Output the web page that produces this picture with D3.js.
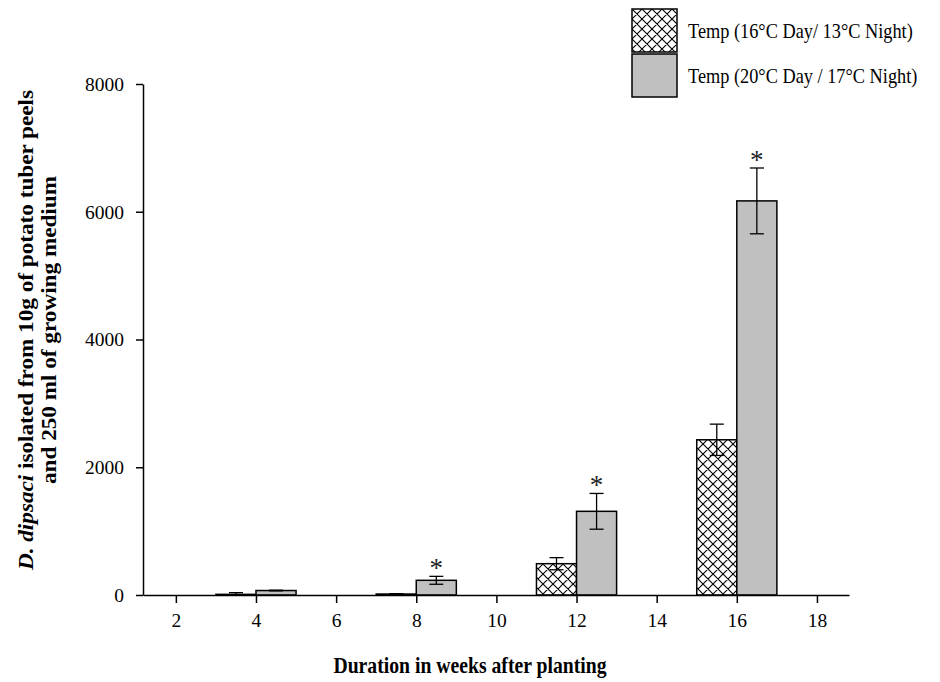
<!DOCTYPE html>
<html>
<head>
<meta charset="utf-8">
<script src="https://cdn.jsdelivr.net/npm/d3@7"></script>
<style>
  body { margin: 0; background: #fff; }
  svg text { font-family: "Liberation Serif", "Times New Roman", serif; fill: #000; }
  .axis path, .axis line { stroke: #000; stroke-width: 1.5; }
</style>
</head>
<body>
<div id="chart"></div>
<script>
// data
const weeks = [4, 8, 12, 16];
const coolMeans = [10, 15, 490, 2430];
const coolErr = [27, 5, 95, 245];
const warmMeans = [70, 230, 1310, 6170];
const warmErr = [5, 62, 280, 515];
const significant = [false, true, true, true];
const xTicks = [2, 4, 6, 8, 10, 12, 14, 16, 18];
const yTicks = [0, 2000, 4000, 6000, 8000];
const seriesNames = ['Temp (16°C Day/ 13°C Night)', 'Temp (20°C Day / 17°C Night)'];

const width = 940, height = 682;
const margin = { left: 143, right: 91, top: 84, bottom: 87 };
const plotW = width - margin.left - margin.right;
const plotH = height - margin.top - margin.bottom;
// the source figure is a bit stretched vertically
const stretch = 1.15;

const svg = d3.select('#chart').append('svg')
    .attr('width', width)
    .attr('height', height);

// cross hatch pattern
const defs = svg.append('defs');
const pat = defs.append('pattern')
    .attr('id', 'hatch')
    .attr('patternUnits', 'userSpaceOnUse')
    .attr('width', 10).attr('height', 10);
pat.append('rect').attr('width', 10).attr('height', 10).attr('fill', '#fff');
pat.append('path')
    .attr('d', 'M0,0L10,10M10,0L0,10M-1,9L1,11M9,-1L11,1M-1,1L1,-1M9,11L11,9')
    .attr('stroke', '#000').attr('stroke-width', 1.1);

const grey = '#c0c0c0';

const x = d3.scaleLinear().domain([1.18, 18.8]).range([0, plotW]);
const y = d3.scaleLinear().domain([0, 8000]).range([plotH, 0]);

const g = svg.append('g').attr('transform', `translate(${margin.left}, ${margin.top})`);

// bars: cool series sits left of the week, warm series right of it
const series = [
    { means: coolMeans, err: coolErr, offset: -1, fill: 'url(#hatch)' },
    { means: warmMeans, err: warmErr, offset: 0, fill: grey }
];

series.forEach(s => {
    const rows = weeks.map((w, i) => ({ w, v: s.means[i], e: s.err[i] }));
    g.selectAll(null).data(rows).enter().append('rect')
        .attr('x', d => x(d.w + s.offset))
        .attr('y', d => y(d.v))
        .attr('width', x(2) - x(1))
        .attr('height', d => plotH - y(d.v))
        .attr('fill', s.fill)
        .attr('stroke', '#000')
        .attr('stroke-width', 1.5);

    // error bars
    const eb = g.selectAll(null).data(rows).enter().append('g')
        .attr('stroke', '#000').attr('stroke-width', 1.3);
    const cx = d => x(d.w + s.offset + 0.5);
    const lo = d => y(Math.max(0, d.v - d.e));
    const hi = d => y(d.v + d.e);
    eb.append('line')
        .attr('x1', cx).attr('x2', cx)
        .attr('y1', hi).attr('y2', lo);
    eb.append('line')
        .attr('x1', d => cx(d) - 7).attr('x2', d => cx(d) + 7)
        .attr('y1', hi).attr('y2', hi);
    eb.append('line')
        .attr('x1', d => cx(d) - 7).attr('x2', d => cx(d) + 7)
        .attr('y1', lo).attr('y2', lo);
});

// significance marks
g.selectAll(null).data(weeks.map((w, i) => ({ w, top: warmMeans[i] + warmErr[i], sig: significant[i] })).filter(d => d.sig))
    .enter().append('text')
    .attr('x', d => x(d.w + 0.5))
    .attr('y', d => y(d.top) + 1)
    .attr('text-anchor', 'middle')
    .style('font-size', '27px')
    .style('fill', '#222')
    .text('*');

// axes
g.append('g').attr('class', 'axis')
    .attr('transform', `translate(0, ${plotH})`)
    .call(d3.axisBottom(x).tickValues(xTicks).tickFormat(d3.format('d'))
        .tickSize(8).tickSizeOuter(0).tickPadding(10));
g.append('g').attr('class', 'axis')
    .call(d3.axisLeft(y).tickValues(yTicks).tickFormat(d3.format('d'))
        .tickSize(7).tickSizeOuter(0).tickPadding(12));
svg.selectAll('.axis text')
    .style('font-family', '"Liberation Serif", serif')
    .style('font-size', '19.5px');

// axis titles
svg.append('g')
    .attr('transform', `translate(470, 673) scale(1, ${stretch})`)
    .append('text')
    .attr('text-anchor', 'middle')
    .style('font-size', '19.7px')
    .style('font-weight', 'bold')
    .text('Duration in weeks after planting');

const yl = svg.append('text')
    .attr('transform', `translate(0, 330) rotate(-90) scale(1.16, 1)`)
    .attr('text-anchor', 'middle')
    .style('font-size', '20px')
    .style('font-weight', 'bold');
const l1 = yl.append('tspan').attr('x', 0).attr('y', 33);
l1.append('tspan').style('font-style', 'italic').text('D. dipsaci');
l1.append('tspan').text(' isolated from 10g of potato tuber peels');
yl.append('tspan').attr('x', 0).attr('y', 56).text('and 250 ml of growing medium');

// legend
const legend = svg.append('g').attr('transform', 'translate(632, 9)');
const fills = ['url(#hatch)', grey];
seriesNames.forEach((name, i) => {
    legend.append('rect')
        .attr('x', 0).attr('y', i * 45)
        .attr('width', 45).attr('height', 43)
        .attr('fill', fills[i])
        .attr('stroke', '#000').attr('stroke-width', 1.5);
    legend.append('g')
        .attr('transform', `translate(56, ${i * 45 + 29}) scale(1, ${stretch})`)
        .append('text')
        .style('font-size', '18.3px')
        .text(name);
});
</script>
</body>
</html>
